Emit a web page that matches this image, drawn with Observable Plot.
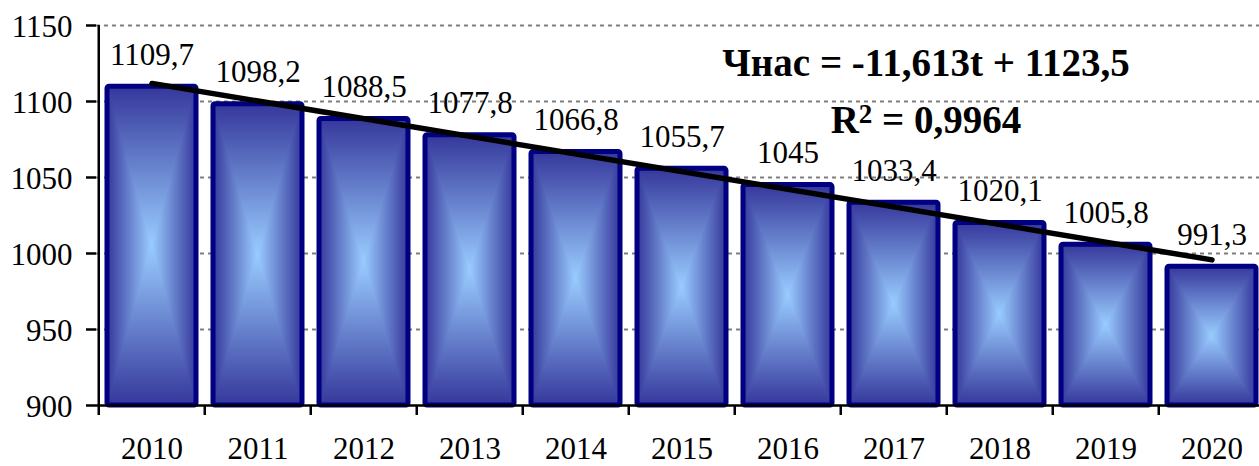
<!DOCTYPE html>
<html>
<head>
<meta charset="utf-8">
<script src="https://cdn.jsdelivr.net/npm/d3@7"></script>
<script src="https://cdn.jsdelivr.net/npm/@observablehq/plot@0.6"></script>
<style>
  html, body { margin: 0; padding: 0; background: #fff; overflow: hidden; }
  svg text { font-family: 'Liberation Serif', 'Times New Roman', serif; }
</style>
</head>
<body>
<div id="chart"></div>
<script>
const years = ["2010","2011","2012","2013","2014","2015","2016","2017","2018","2019","2020"];
const values = [1109.7, 1098.2, 1088.5, 1077.8, 1066.8, 1055.7, 1045, 1033.4, 1020.1, 1005.8, 991.3];
const valueLabels = ["1109,7","1098,2","1088,5","1077,8","1066,8","1055,7","1045","1033,4","1020,1","1005,8","991,3"];
const yTicks = [900, 950, 1000, 1050, 1100, 1150];
const yDomain = [900, 1150];
const trendYears = ["2010", "2020"];
const trendValues = [1111.9, 995.8];
const equationTexts = ["Чнас = -11,613t + 1123,5", "R² = 0,9964"];
const equationYears = ["2017", "2017"];
const equationValues = [1117, 1079.6];

const bars = years.map((y, i) => ({year: y, value: values[i], label: valueLabels[i]}));
const trend = trendYears.map((y, i) => ({year: y, value: trendValues[i]}));
const equation = equationTexts.map((t, i) => ({year: equationYears[i], value: equationValues[i], text: t}));

const halfStep = 53.25;
const font = "'Liberation Serif', 'Times New Roman', serif";

const svg = Plot.plot({
  width: 1259,
  height: 466,
  marginLeft: 96,
  marginRight: -8,
  marginTop: 25,
  marginBottom: 61,
  style: {fontFamily: font, background: "white", color: "black"},
  x: {type: "band", domain: years, paddingInner: 0.165, paddingOuter: 0.08, axis: null},
  y: {domain: yDomain, axis: null},
  marks: [
    Plot.gridY(yTicks.slice(1), {stroke: "#7f7f7f", strokeOpacity: 1, strokeWidth: 2.2, strokeDasharray: "4,4"}),
    Plot.barY(bars, {x: "year", y1: yDomain[0], y2: "value", fill: "url(#barfill)", stroke: "#000080", strokeWidth: 5, rx: 2, inset: 0}),
    Plot.line(trend, {x: "year", y: "value", stroke: "black", strokeWidth: 5.5}),
    Plot.ruleY([yDomain[0]], {stroke: "black", strokeWidth: 2.5}),
    Plot.ruleX([years[0]], {y1: yDomain[0], y2: yDomain[1], dx: -halfStep, stroke: "black", strokeWidth: 2.5}),
    Plot.axisY({ticks: yTicks, tickSize: 10, tickFormat: () => "", label: null, strokeWidth: 2.5, stroke: "black"}),
    Plot.axisY({ticks: yTicks, tickSize: 0, tickPadding: 24, fontSize: 31, dy: 2, label: null, fill: "black", tickFormat: d => String(d)}),
    Plot.axisX({ticks: years, tickSize: 10, tickFormat: () => "", dx: -halfStep, label: null, strokeWidth: 2.5, stroke: "black"}),
    Plot.axisX({ticks: years, tickSize: 0, tickPadding: 31, fontSize: 31, label: null, fill: "black"}),
    Plot.text(bars, {x: "year", y: "value", text: "label", lineAnchor: "bottom", dy: -22, fontSize: 31, fill: "black"}),
    Plot.text(equation, {x: "year", y: "value", text: "text", lineAnchor: "bottom", dx: 32, fontSize: 39, fontWeight: "bold", fill: "black"})
  ]
});

const defs = document.createElementNS("http://www.w3.org/2000/svg", "defs");
const dark = "#35379b", light = "#99ccff";
defs.innerHTML = `
  <linearGradient id="gTop" x1="0" y1="0" x2="0" y2="1"><stop offset="0" stop-color="${dark}"/><stop offset="1" stop-color="${light}"/></linearGradient>
  <linearGradient id="gBot" x1="0" y1="0" x2="0" y2="1"><stop offset="0" stop-color="${light}"/><stop offset="1" stop-color="${dark}"/></linearGradient>
  <linearGradient id="gHoriz" x1="0" y1="0" x2="1" y2="0"><stop offset="0" stop-color="${dark}"/><stop offset="0.5" stop-color="${light}"/><stop offset="1" stop-color="${dark}"/></linearGradient>
  <pattern id="barfill" patternUnits="objectBoundingBox" patternContentUnits="objectBoundingBox" width="1" height="1">
    <rect x="0" y="0" width="1" height="1" fill="url(#gHoriz)"/>
    <polygon points="0,0 1,0 0.5,0.5" fill="url(#gTop)"/>
    <polygon points="0,1 1,1 0.5,0.5" fill="url(#gBot)"/>
  </pattern>`;
svg.insertBefore(defs, svg.firstChild);

// real superscript for R²
svg.querySelectorAll("text").forEach(t => {
  if (t.textContent === equationTexts[1]) {
    const ns = "http://www.w3.org/2000/svg";
    const rest = equationTexts[1].slice(2);
    t.textContent = "R";
    const sup = document.createElementNS(ns, "tspan");
    sup.setAttribute("dy", "-10");
    sup.setAttribute("font-size", "27");
    sup.textContent = "2";
    const tail = document.createElementNS(ns, "tspan");
    tail.setAttribute("dy", "10");
    tail.textContent = rest;
    t.appendChild(sup);
    t.appendChild(tail);
  }
});
document.getElementById("chart").appendChild(svg);
</script>
</body>
</html>
